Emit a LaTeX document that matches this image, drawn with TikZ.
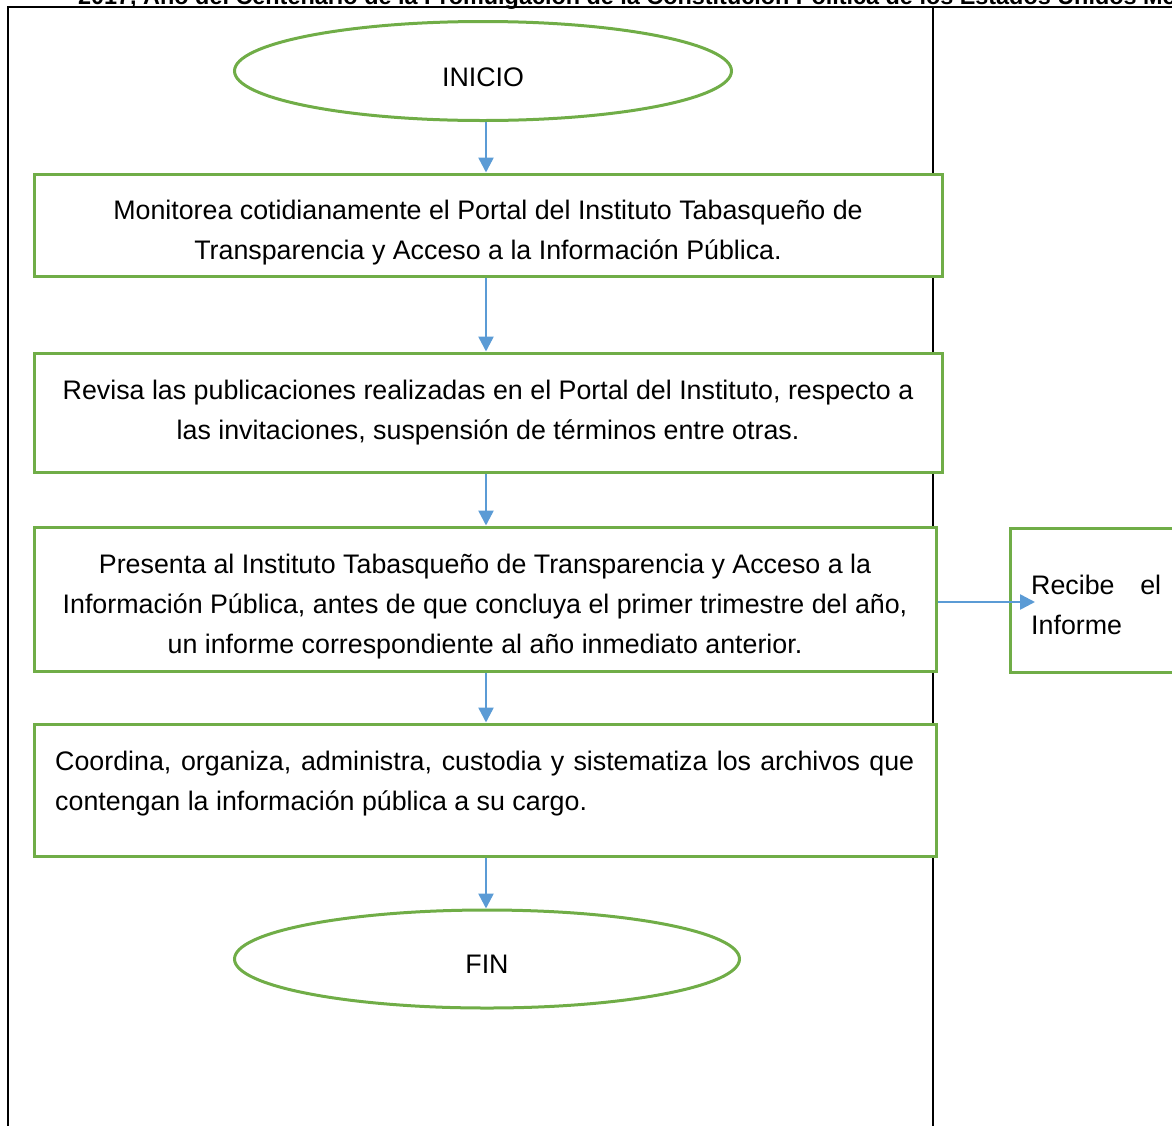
\documentclass[tikz,border=0pt]{standalone}
\usepackage{fontspec}
\setmainfont{Liberation Sans}
\usetikzlibrary{shapes.geometric,arrows.meta}
\definecolor{gr}{HTML}{70AD47}
\definecolor{bl}{HTML}{5B9BD5}
\begin{document}
\begin{tikzpicture}[x=1pt,y=-1pt,
  frame/.style={draw=black,line width=2pt},
  box/.style={draw=gr,line width=3pt,fill=white,inner sep=0pt},
  oval/.style={ellipse,draw=gr,line width=3pt,fill=white,inner sep=0pt,
    font=\fontsize{26.8}{40}\selectfont,text depth=0pt},
  txt/.style={inner sep=0pt,font=\fontsize{26.8}{40}\selectfont},
  arr/.style={draw=bl,line width=2.5pt,-{Triangle[length=15pt,width=15pt]}}]
\useasboundingbox (0,0) rectangle (1172,1125);
\clip (0,0) rectangle (1172,1125);
% table frame
\draw[frame] (8,1140) -- (8,7) -- (1190,7);
\draw[frame] (933,7) -- (933,1140);
\node[anchor=base west,inner sep=0pt,font=\bfseries\fontsize{23.4}{23.4}\selectfont] (hdr) at (78,4)
  {2017, Año del Centenario de la Promulgación de la Constitución Política de los Estados Unidos Mexicanos};
% shapes
\node[oval,minimum width=497pt,minimum height=99pt,text height=31pt] (e1) at (483,71) {INICIO};
\node[box,minimum width=908pt,minimum height=102pt] (b1) at (488,225) {};
\node[txt,align=center] (t1) at (488,233)
  {Monitorea cotidianamente el Portal del Instituto Tabasqueño de\\Transparencia y Acceso a la Información Pública.};
\node[box,minimum width=908pt,minimum height=119pt] (b2) at (488,412.5) {};
\node[txt,align=center] (t2) at (488,413)
  {Revisa las publicaciones realizadas en el Portal del Instituto, respecto a\\las invitaciones, suspensión de términos entre otras.};
\node[box,minimum width=902pt,minimum height=144pt] (b3) at (485,599) {};
\node[txt,align=center] (t3) at (485,607)
  {Presenta al Instituto Tabasqueño de Transparencia y Acceso a la\\Información Pública, antes de que concluya el primer trimestre del año,\\un informe correspondiente al año inmediato anterior.};
\node[box,minimum width=190pt,minimum height=144pt,anchor=north west] (b4) at (1009,527) {};
\node[txt,align=justify,text width=130pt,anchor=north west] (t4) at (1031,574.5) {Recibe el Informe};
\node[box,minimum width=902pt,minimum height=132pt] (b5) at (485,790) {};
\node[txt,align=justify,text width=859pt,anchor=north west] (t5) at (55,751)
  {Coordina, organiza, administra, custodia y sistematiza los archivos que contengan la información pública a su cargo.};
\node[oval,minimum width=505pt,minimum height=98pt,text height=29pt] (e2) at (487,959) {FIN};
% connectors
\coordinate (ax) at (486,0);
\draw[arr] (ax |- e1.south) -- (ax |- b1.north);
\draw[arr] (ax |- b1.south) -- (ax |- b2.north);
\draw[arr] (ax |- b2.south) -- (ax |- b3.north);
\draw[arr] (ax |- b3.south) -- (ax |- b5.north);
\draw[arr] (ax |- b5.south) -- (ax |- e2.north);
\coordinate (ae) at (1035,602);
\draw[arr] (b3.east |- ae) -- (ae);
\end{tikzpicture}
\end{document}
